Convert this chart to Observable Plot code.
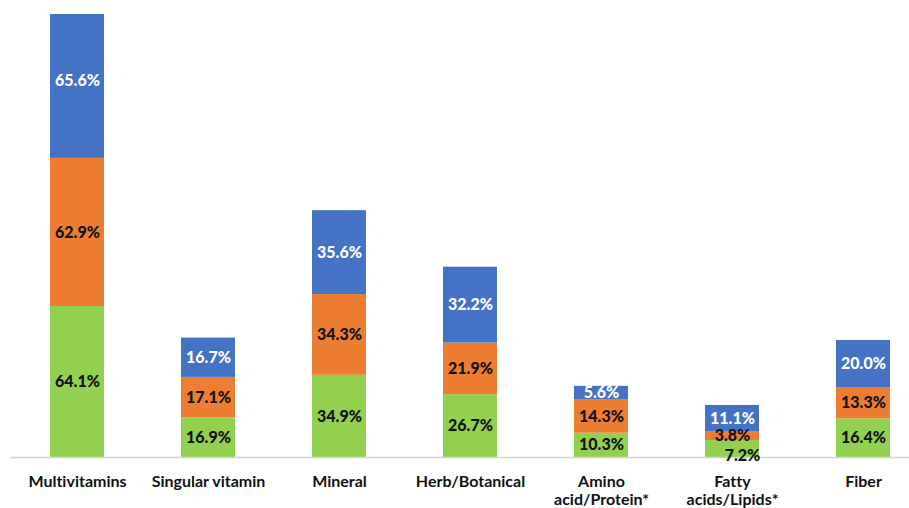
<!DOCTYPE html>
<html>
<head>
<meta charset="utf-8">
<script src="https://cdn.jsdelivr.net/npm/d3@7"></script>
<script src="https://cdn.jsdelivr.net/npm/@observablehq/plot@0.6"></script>
<style>
  html, body { margin: 0; padding: 0; background: #fff; }
  #chart svg { display: block; font-family: Lato, "Open Sans", sans-serif; }
  #chart svg text { font-variant-ligatures: none; }
</style>
</head>
<body>
<div id="chart"></div>
<script>
// Supplement categories and tick labels
const categories = ["Multivitamins", "Singular vitamin", "Mineral", "Herb/Botanical",
                    "Amino acid/Protein*", "Fatty acids/Lipids*", "Fiber"];
const tickLabels = ["Multivitamins", "Singular vitamin", "Mineral", "Herb/Botanical",
                    "Amino\nacid/Protein*", "Fatty\nacids/Lipids*", "Fiber"];

// Shares (%) per category, stacked bottom → top
const bottomValues = [64.1, 16.9, 34.9, 26.7, 10.3, 7.2, 16.4];
const middleValues = [62.9, 17.1, 34.3, 21.9, 14.3, 3.8, 13.3];
const topValues    = [65.6, 16.7, 35.6, 32.2, 5.6, 11.1, 20.0];

const seriesNames  = ["bottom", "middle", "top"];
const seriesColors = {bottom: "#92D050", middle: "#ED7D31", top: "#4472C4"};
const labelColors  = {bottom: "#111111", middle: "#111111", top: "#ffffff"};

const seriesValues = {bottom: bottomValues, middle: middleValues, top: topValues};
const rows = seriesNames.flatMap(s =>
  categories.map((c, i) => ({category: c, series: s, value: seriesValues[s][i]}))
);

// The small Fatty-acids bottom label sits just under its thin segment
const nudged = d => d.category === "Fatty acids/Lipids*" && d.series === "bottom";
const fmt = d => d.value.toFixed(1) + "%";

const stackOpts = {x: "category", y: "value", z: "series", order: seriesNames};
const labelStyle = {fontSize: 16, fontWeight: 900, fill: d => labelColors[d.series]};

const chart = Plot.plot({
  width: 909,
  height: 508,
  marginTop: 14,
  marginBottom: 51,
  marginLeft: 10,
  marginRight: 0,
  style: {fontFamily: "Lato, 'Open Sans', sans-serif", background: "#fff", overflow: "visible"},
  x: {domain: categories, range: [10.4, 929.5], paddingInner: 0.59, paddingOuter: 0.295, label: null},
  y: {domain: [0, 188.1], axis: null},
  color: {type: "identity"},
  marks: [
    Plot.barY(rows, Plot.stackY({
      ...stackOpts,
      fill: d => seriesColors[d.series],
      clip: true
    })),
    Plot.ruleY([0], {stroke: "#d4d4d4", strokeWidth: 1.5}),
    Plot.text(rows, Plot.stackY({
      ...stackOpts,
      ...labelStyle,
      text: d => nudged(d) ? "" : fmt(d)
    })),
    Plot.text(rows, Plot.stackY({
      ...stackOpts,
      ...labelStyle,
      text: d => nudged(d) ? fmt(d) : "",
      dx: 10,
      dy: 7
    })),
    Plot.axisX({
      tickSize: 0,
      tickPadding: 16,
      tickFormat: d => tickLabels[categories.indexOf(d)],
      fontSize: 16,
      fontWeight: "bold",
      fill: "#111111",
      lineHeight: 1.15,
      label: null
    })
  ]
});

document.getElementById("chart").append(chart);
</script>
</body>
</html>
